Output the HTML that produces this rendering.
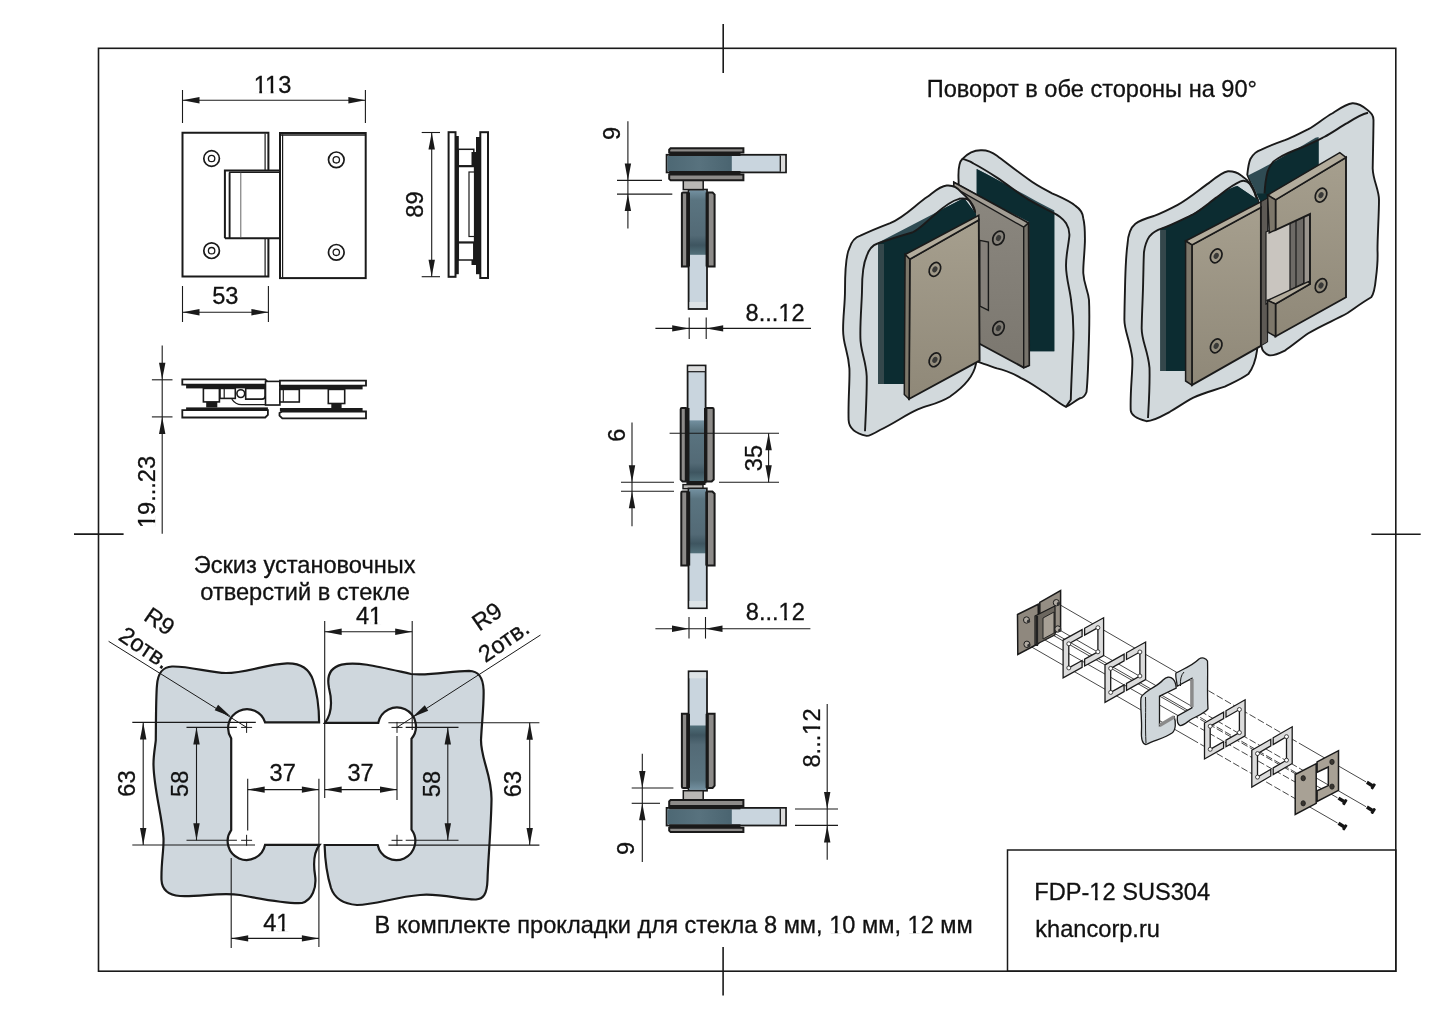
<!DOCTYPE html>
<html><head><meta charset="utf-8"><style>
html,body{margin:0;padding:0;background:#fff;width:1443px;height:1020px;overflow:hidden}
svg{display:block;will-change:transform}
text{font-family:"Liberation Sans",sans-serif;fill:#111;stroke:#111;stroke-width:0.3px}
</style></head><body>
<svg width="1443" height="1020" viewBox="0 0 1443 1020">
<rect width="1443" height="1020" fill="#fff"/>
<rect x="98.5" y="48.3" width="1297.3" height="922.9" fill="none" stroke="#1a1a1a" stroke-width="1.6" />
<line x1="723.2" y1="24.0" x2="723.2" y2="73.0" stroke="#1a1a1a" stroke-width="1.6" />
<line x1="723.1" y1="947.0" x2="723.1" y2="995.5" stroke="#1a1a1a" stroke-width="1.6" />
<line x1="74.0" y1="534.1" x2="123.6" y2="534.1" stroke="#1a1a1a" stroke-width="1.6" />
<line x1="1371.4" y1="534.2" x2="1420.7" y2="534.2" stroke="#1a1a1a" stroke-width="1.6" />
<rect x="1007.5" y="850.0" width="388.3" height="121.2" fill="none" stroke="#1a1a1a" stroke-width="1.5" />
<text x="1034.3" y="900.3" font-size="23.6" text-anchor="start" >FDP-12 SUS304</text>
<text x="1035.3" y="937.1" font-size="23.6" text-anchor="start" >khancorp.ru</text>
<text x="926.7" y="97.0" font-size="23.6" text-anchor="start" >Поворот в обе стороны на 90°</text>
<text x="193.8" y="572.8" font-size="23.6" text-anchor="start" >Эскиз установочных</text>
<text x="200.3" y="600.2" font-size="23.6" text-anchor="start" >отверстий в стекле</text>
<text x="374.6" y="932.7" font-size="23.6" text-anchor="start" >В комплекте прокладки для стекла 8 мм, 10 мм, 12 мм</text>
<line x1="182.5" y1="90.0" x2="182.5" y2="123.0" stroke="#1a1a1a" stroke-width="1.1" />
<line x1="365.4" y1="90.0" x2="365.4" y2="123.0" stroke="#1a1a1a" stroke-width="1.1" />
<line x1="182.5" y1="100.2" x2="365.4" y2="100.2" stroke="#1a1a1a" stroke-width="1.1" />
<polygon points="182.5,100.2 199.5,97.0 199.5,103.4" fill="#1a1a1a"/>
<polygon points="365.4,100.2 348.4,103.4 348.4,97.0" fill="#1a1a1a"/>
<text x="272.5" y="93.0" font-size="23.6" text-anchor="middle" >113</text>
<path d="M268.4,170.6 V132.7 H182.5 V276.5 H268.4 V238.2" fill="none" stroke="#1a1a1a" stroke-width="2" />
<line x1="265.1" y1="133.5" x2="265.1" y2="170.6" stroke="#1a1a1a" stroke-width="1.2" />
<line x1="265.1" y1="238.2" x2="265.1" y2="276.0" stroke="#1a1a1a" stroke-width="1.2" />
<path d="M224.9,238.2 V170.6 H279 M224.9,238.2 H279" fill="none" stroke="#1a1a1a" stroke-width="2" />
<line x1="229.6" y1="172.5" x2="229.6" y2="238.0" stroke="#1a1a1a" stroke-width="1.9" />
<line x1="229.0" y1="172.3" x2="279.0" y2="172.3" stroke="#1a1a1a" stroke-width="1.4" />
<line x1="240.8" y1="172.5" x2="240.8" y2="238.0" stroke="#555" stroke-width="0.9" />
<rect x="280.0" y="133.0" width="85.7" height="145.1" fill="none" stroke="#1a1a1a" stroke-width="2" />
<line x1="282.6" y1="134.5" x2="282.6" y2="277.5" stroke="#1a1a1a" stroke-width="1.2" />
<line x1="280.0" y1="135.0" x2="365.7" y2="135.0" stroke="#1a1a1a" stroke-width="1.4" />
<circle cx="211.6" cy="158.5" r="7.8" fill="none" stroke="#1a1a1a" stroke-width="1.7"/>
<circle cx="211.6" cy="158.5" r="3.2" fill="none" stroke="#1a1a1a" stroke-width="1.3"/>
<circle cx="336.3" cy="159.8" r="7.8" fill="none" stroke="#1a1a1a" stroke-width="1.7"/>
<circle cx="336.3" cy="159.8" r="3.2" fill="none" stroke="#1a1a1a" stroke-width="1.3"/>
<circle cx="211.6" cy="250.7" r="7.8" fill="none" stroke="#1a1a1a" stroke-width="1.7"/>
<circle cx="211.6" cy="250.7" r="3.2" fill="none" stroke="#1a1a1a" stroke-width="1.3"/>
<circle cx="336.3" cy="252.3" r="7.8" fill="none" stroke="#1a1a1a" stroke-width="1.7"/>
<circle cx="336.3" cy="252.3" r="3.2" fill="none" stroke="#1a1a1a" stroke-width="1.3"/>
<line x1="182.5" y1="286.0" x2="182.5" y2="322.0" stroke="#1a1a1a" stroke-width="1.1" />
<line x1="268.4" y1="286.0" x2="268.4" y2="322.0" stroke="#1a1a1a" stroke-width="1.1" />
<line x1="182.5" y1="312.2" x2="268.4" y2="312.2" stroke="#1a1a1a" stroke-width="1.1" />
<polygon points="182.5,312.2 199.5,309.0 199.5,315.4" fill="#1a1a1a"/>
<polygon points="268.4,312.2 251.4,315.4 251.4,309.0" fill="#1a1a1a"/>
<text x="225.3" y="304.0" font-size="23.6" text-anchor="middle" >53</text>
<line x1="421.7" y1="132.5" x2="440.0" y2="132.5" stroke="#1a1a1a" stroke-width="1.1" />
<line x1="421.7" y1="276.7" x2="440.0" y2="276.7" stroke="#1a1a1a" stroke-width="1.1" />
<line x1="431.7" y1="132.5" x2="431.7" y2="276.7" stroke="#1a1a1a" stroke-width="1.1" />
<polygon points="431.7,132.5 434.9,149.5 428.5,149.5" fill="#1a1a1a"/>
<polygon points="431.7,276.7 428.5,259.7 434.9,259.7" fill="#1a1a1a"/>
<text x="422.5" y="204.5" font-size="23.6" text-anchor="middle" transform="rotate(-90 422.5 204.5)" >89</text>
<rect x="448.6" y="132.2" width="6.9" height="144.6" fill="#fff" stroke="#1a1a1a" stroke-width="2" />
<rect x="455.0" y="136.0" width="3.8" height="138.2" fill="#1a1a1a" stroke="none" stroke-width="1.5" />
<rect x="480.3" y="132.2" width="7.7" height="145.8" fill="#fff" stroke="#1a1a1a" stroke-width="2" />
<rect x="476.0" y="137.0" width="4.3" height="137.2" fill="#1a1a1a" stroke="none" stroke-width="1.5" />
<rect x="458.3" y="149.3" width="15.5" height="16.5" fill="#fff" stroke="#1a1a1a" stroke-width="1.5" />
<rect x="471.5" y="152.0" width="5.0" height="113.0" fill="#1a1a1a" stroke="none" stroke-width="1.5" />
<rect x="458.3" y="166.6" width="16.2" height="75.4" fill="#fff" stroke="#1a1a1a" stroke-width="1.3" />
<rect x="469.0" y="172.0" width="5.5" height="64.5" fill="#fff" stroke="#1a1a1a" stroke-width="1.2" />
<rect x="458.3" y="242.8" width="15.5" height="17.2" fill="#fff" stroke="#1a1a1a" stroke-width="1.5" />
<line x1="162.2" y1="345.4" x2="162.2" y2="533.8" stroke="#1a1a1a" stroke-width="1.1" />
<line x1="151.9" y1="379.8" x2="172.5" y2="379.8" stroke="#1a1a1a" stroke-width="1.1" />
<line x1="151.9" y1="416.9" x2="172.5" y2="416.9" stroke="#1a1a1a" stroke-width="1.1" />
<polygon points="162.2,379.8 159.0,362.8 165.4,362.8" fill="#1a1a1a"/>
<polygon points="162.2,416.9 165.4,433.9 159.0,433.9" fill="#1a1a1a"/>
<text x="154.8" y="492.0" font-size="23.6" text-anchor="middle" transform="rotate(-90 154.8 492.0)" >19...23</text>
<path d="M182.3,379.4 H265.2 L267.9,382.2 V384.6 H182.3 Z" fill="#fff" stroke="#1a1a1a" stroke-width="1.8" />
<rect x="186.1" y="384.6" width="81.8" height="3.8" fill="#1a1a1a" stroke="none" stroke-width="1.5" />
<rect x="203.4" y="388.4" width="16.0" height="13.5" fill="#fff" stroke="#1a1a1a" stroke-width="1.6" />
<rect x="206.2" y="401.9" width="11.1" height="5.5" fill="#1a1a1a" stroke="none" stroke-width="1.5" />
<rect x="186.1" y="407.4" width="81.8" height="2.8" fill="#1a1a1a" stroke="none" stroke-width="1.5" />
<path d="M182.3,410.2 H267.9 V414.8 L265.2,417.5 H182.3 Z" fill="#fff" stroke="#1a1a1a" stroke-width="1.8" />
<rect x="220.0" y="388.4" width="15.3" height="10.0" fill="#fff" stroke="#1a1a1a" stroke-width="1.6" />
<line x1="224.2" y1="388.6" x2="224.2" y2="398.2" stroke="#1a1a1a" stroke-width="1.2" />
<circle cx="240.8" cy="393.6" r="3.9" fill="#fff" stroke="#1a1a1a" stroke-width="1.6"/>
<path d="M245.7,388.4 H265.1 V396 Q265.1,399.1 262,399.1 H245.7 Z" fill="#fff" stroke="#1a1a1a" stroke-width="1.6" />
<path d="M231.8,399.1 Q235.5,404.6 241.5,404.6 H279.9" fill="none" stroke="#1a1a1a" stroke-width="1.2" />
<line x1="267.9" y1="381.8" x2="279.9" y2="381.8" stroke="#1a1a1a" stroke-width="1.4" />
<rect x="265.5" y="381.4" width="14.4" height="23.6" fill="#fff" stroke="#1a1a1a" stroke-width="1.6" />
<path d="M279.9,380.7 H366 V385.6 H279.9 Z" fill="#fff" stroke="#1a1a1a" stroke-width="1.8" />
<rect x="279.9" y="385.6" width="82.7" height="3.8" fill="#1a1a1a" stroke="none" stroke-width="1.5" />
<rect x="279.9" y="389.4" width="19.4" height="12.6" fill="#fff" stroke="#1a1a1a" stroke-width="1.6" />
<line x1="283.3" y1="389.6" x2="283.3" y2="401.8" stroke="#1a1a1a" stroke-width="1.2" />
<rect x="328.3" y="389.4" width="16.4" height="14.1" fill="#fff" stroke="#1a1a1a" stroke-width="1.6" />
<rect x="331.3" y="403.5" width="10.3" height="4.5" fill="#1a1a1a" stroke="none" stroke-width="1.5" />
<rect x="279.9" y="408.0" width="82.7" height="3.5" fill="#1a1a1a" stroke="none" stroke-width="1.5" />
<path d="M282.3,411.5 H366 V418.4 H282.3 L279.5,415.6 V413 Z" fill="#fff" stroke="#1a1a1a" stroke-width="1.8" />
<defs><linearGradient id="dgv" x1="0" y1="0" x2="0" y2="1"><stop offset="0" stop-color="#7390a0"/><stop offset="0.15" stop-color="#5a7480"/><stop offset="0.7" stop-color="#536a76"/><stop offset="0.85" stop-color="#3e5560"/><stop offset="1" stop-color="#52707a"/></linearGradient><linearGradient id="dgh" x1="0" y1="0" x2="1" y2="0"><stop offset="0" stop-color="#4d6874"/><stop offset="0.5" stop-color="#58727e"/><stop offset="1" stop-color="#4a6470"/></linearGradient></defs>
<g >
<rect x="688.6" y="189.6" width="18.4" height="119.4" fill="#c9d5de" stroke="#1a1a1a" stroke-width="1.8" />
<rect x="689.5" y="190.5" width="16.6" height="64.3" fill="url(#dgv)" stroke="none" stroke-width="1.5" />
<rect x="689.5" y="302.0" width="16.6" height="6.0" fill="#dde3e6" stroke="none" stroke-width="1.5" />
<rect x="686.8" y="192.4" width="3.2" height="74.1" fill="#1a1a1a" stroke="none" stroke-width="1.5" />
<rect x="705.6" y="192.4" width="2.6" height="74.1" fill="#1a1a1a" stroke="none" stroke-width="1.5" />
<path d="M681.9,193.6 Q681.9,192.4 683.1,192.4 H687.2 V266.5 H681.9 Z" fill="#8d8b89" stroke="#1a1a1a" stroke-width="2.0" />
<path d="M707.8,192.4 H712.6 L714.6,194.6 V266.5 H707.8 Z" fill="#8d8b89" stroke="#1a1a1a" stroke-width="2.0" />
<rect x="683.3" y="180.3" width="19.9" height="9.3" fill="#b9b7b4" stroke="#1a1a1a" stroke-width="1.5" />
<rect x="666.6" y="154.8" width="119.4" height="17.6" fill="#c9d5de" stroke="#1a1a1a" stroke-width="1.8" />
<rect x="667.5" y="156.0" width="64.3" height="15.0" fill="url(#dgh)" stroke="none" stroke-width="1.5" />
<rect x="780.3" y="155.7" width="4.8" height="15.8" fill="#dcdcdc" stroke="none" stroke-width="1.5" />
<line x1="780.3" y1="155.5" x2="780.3" y2="171.7" stroke="#1a1a1a" stroke-width="1.3" />
<rect x="669.2" y="152.4" width="71.3" height="3.6" fill="#1a1a1a" stroke="none" stroke-width="1.5" />
<rect x="669.2" y="171.0" width="71.3" height="3.6" fill="#1a1a1a" stroke="none" stroke-width="1.5" />
<path d="M670.6,148.2 H743.4 V152.6 H669.2 V149.6 Z" fill="#8d8b89" stroke="#1a1a1a" stroke-width="2.0" />
<path d="M669.2,174.4 H743.4 V180.3 H670.6 L669.2,178.9 Z" fill="#8d8b89" stroke="#1a1a1a" stroke-width="2.0" />
</g>
<g transform="matrix(1,0,0,-1,0,980.3)">
<rect x="688.6" y="189.6" width="18.4" height="119.4" fill="#c9d5de" stroke="#1a1a1a" stroke-width="1.8" />
<rect x="689.5" y="190.5" width="16.6" height="64.3" fill="url(#dgv)" stroke="none" stroke-width="1.5" />
<rect x="689.5" y="302.0" width="16.6" height="6.0" fill="#dde3e6" stroke="none" stroke-width="1.5" />
<rect x="686.8" y="192.4" width="3.2" height="74.1" fill="#1a1a1a" stroke="none" stroke-width="1.5" />
<rect x="705.6" y="192.4" width="2.6" height="74.1" fill="#1a1a1a" stroke="none" stroke-width="1.5" />
<path d="M681.9,193.6 Q681.9,192.4 683.1,192.4 H687.2 V266.5 H681.9 Z" fill="#8d8b89" stroke="#1a1a1a" stroke-width="2.0" />
<path d="M707.8,192.4 H712.6 L714.6,194.6 V266.5 H707.8 Z" fill="#8d8b89" stroke="#1a1a1a" stroke-width="2.0" />
<rect x="683.3" y="180.3" width="19.9" height="9.3" fill="#b9b7b4" stroke="#1a1a1a" stroke-width="1.5" />
<rect x="666.6" y="154.8" width="119.4" height="17.6" fill="#c9d5de" stroke="#1a1a1a" stroke-width="1.8" />
<rect x="667.5" y="156.0" width="64.3" height="15.0" fill="url(#dgh)" stroke="none" stroke-width="1.5" />
<rect x="780.3" y="155.7" width="4.8" height="15.8" fill="#dcdcdc" stroke="none" stroke-width="1.5" />
<line x1="780.3" y1="155.5" x2="780.3" y2="171.7" stroke="#1a1a1a" stroke-width="1.3" />
<rect x="669.2" y="152.4" width="71.3" height="3.6" fill="#1a1a1a" stroke="none" stroke-width="1.5" />
<rect x="669.2" y="171.0" width="71.3" height="3.6" fill="#1a1a1a" stroke="none" stroke-width="1.5" />
<path d="M670.6,148.2 H743.4 V152.6 H669.2 V149.6 Z" fill="#8d8b89" stroke="#1a1a1a" stroke-width="2.0" />
<path d="M669.2,174.4 H743.4 V180.3 H670.6 L669.2,178.9 Z" fill="#8d8b89" stroke="#1a1a1a" stroke-width="2.0" />
</g>
<rect x="687.6" y="365.5" width="18.0" height="116.9" fill="#c9d5de" stroke="#1a1a1a" stroke-width="1.8" />
<rect x="688.5" y="366.4" width="16.2" height="5.3" fill="#dcdcdc" stroke="none" stroke-width="1.5" />
<line x1="687.6" y1="371.7" x2="705.6" y2="371.7" stroke="#1a1a1a" stroke-width="1.2" />
<rect x="688.5" y="420.4" width="16.2" height="61.1" fill="url(#dgv)" stroke="none" stroke-width="1.5" />
<rect x="686.0" y="408.0" width="3.5" height="73.5" fill="#1a1a1a" stroke="none" stroke-width="1.5" />
<rect x="704.0" y="408.0" width="3.0" height="73.5" fill="#1a1a1a" stroke="none" stroke-width="1.5" />
<rect x="686.5" y="481.0" width="19.0" height="4.0" fill="#1a1a1a" stroke="none" stroke-width="1.5" />
<path d="M680.7,409.2 Q680.7,408 681.9,408 H685.8 V481.5 H682.5 L680.7,479.7 Z" fill="#8d8b89" stroke="#1a1a1a" stroke-width="2.0" />
<path d="M706.4,408 H712.5 Q713.7,408 713.7,409.2 V479.5 L711.7,481.5 H706.4 Z" fill="#8d8b89" stroke="#1a1a1a" stroke-width="2.0" />
<rect x="683.0" y="484.6" width="20.0" height="4.1" fill="#b9b7b4" stroke="#1a1a1a" stroke-width="1.4" />
<rect x="688.5" y="488.4" width="18.3" height="119.8" fill="#c9d5de" stroke="#1a1a1a" stroke-width="1.8" />
<rect x="689.4" y="489.3" width="16.5" height="64.0" fill="url(#dgv)" stroke="none" stroke-width="1.5" />
<rect x="689.4" y="601.0" width="16.5" height="6.3" fill="#dde3e6" stroke="none" stroke-width="1.5" />
<rect x="686.8" y="491.5" width="3.4" height="74.1" fill="#1a1a1a" stroke="none" stroke-width="1.5" />
<rect x="705.3" y="491.5" width="2.5" height="74.1" fill="#1a1a1a" stroke="none" stroke-width="1.5" />
<path d="M681.3,492.7 Q681.3,491.5 682.5,491.5 H687.2 V565.6 H681.3 Z" fill="#8d8b89" stroke="#1a1a1a" stroke-width="2.0" />
<path d="M707.0,491.5 H712.4 L714.6,493.7 V565.6 H707.0 Z" fill="#8d8b89" stroke="#1a1a1a" stroke-width="2.0" />
<line x1="627.9" y1="121.3" x2="627.9" y2="228.4" stroke="#1a1a1a" stroke-width="1.1" />
<line x1="617.0" y1="180.4" x2="662.0" y2="180.4" stroke="#1a1a1a" stroke-width="1.1" />
<line x1="617.0" y1="194.1" x2="672.3" y2="194.1" stroke="#1a1a1a" stroke-width="1.1" />
<polygon points="627.9,180.4 624.7,163.4 631.1,163.4" fill="#1a1a1a"/>
<polygon points="627.9,194.1 631.1,211.1 624.7,211.1" fill="#1a1a1a"/>
<text x="619.5" y="133.5" font-size="23.6" text-anchor="middle" transform="rotate(-90 619.5 133.5)" >9</text>
<line x1="655.4" y1="328.4" x2="811.0" y2="328.4" stroke="#1a1a1a" stroke-width="1.1" />
<line x1="689.2" y1="317.5" x2="689.2" y2="339.0" stroke="#1a1a1a" stroke-width="1.1" />
<line x1="706.2" y1="317.5" x2="706.2" y2="339.0" stroke="#1a1a1a" stroke-width="1.1" />
<polygon points="689.2,328.4 672.2,331.6 672.2,325.2" fill="#1a1a1a"/>
<polygon points="706.2,328.4 723.2,325.2 723.2,331.6" fill="#1a1a1a"/>
<text x="745.6" y="321.0" font-size="23.6" text-anchor="start" >8...12</text>
<line x1="632.0" y1="422.5" x2="632.0" y2="526.3" stroke="#1a1a1a" stroke-width="1.1" />
<line x1="621.0" y1="482.2" x2="674.0" y2="482.2" stroke="#1a1a1a" stroke-width="1.1" />
<line x1="621.0" y1="491.3" x2="674.0" y2="491.3" stroke="#1a1a1a" stroke-width="1.1" />
<polygon points="632.0,482.2 628.8,465.2 635.2,465.2" fill="#1a1a1a"/>
<polygon points="632.0,491.3 635.2,508.3 628.8,508.3" fill="#1a1a1a"/>
<text x="625.5" y="435.3" font-size="23.6" text-anchor="middle" transform="rotate(-90 625.5 435.3)" >6</text>
<line x1="669.6" y1="433.3" x2="779.0" y2="433.3" stroke="#1a1a1a" stroke-width="1.1" />
<line x1="719.0" y1="482.2" x2="779.0" y2="482.2" stroke="#1a1a1a" stroke-width="1.1" />
<line x1="768.6" y1="433.3" x2="768.6" y2="482.2" stroke="#1a1a1a" stroke-width="1.1" />
<polygon points="768.6,433.3 771.8,450.3 765.4,450.3" fill="#1a1a1a"/>
<polygon points="768.6,482.2 765.4,465.2 771.8,465.2" fill="#1a1a1a"/>
<text x="762.0" y="458.0" font-size="23.6" text-anchor="middle" transform="rotate(-90 762.0 458.0)" >35</text>
<line x1="655.4" y1="628.7" x2="810.4" y2="628.7" stroke="#1a1a1a" stroke-width="1.1" />
<line x1="689.0" y1="617.0" x2="689.0" y2="638.6" stroke="#1a1a1a" stroke-width="1.1" />
<line x1="705.5" y1="617.0" x2="705.5" y2="638.6" stroke="#1a1a1a" stroke-width="1.1" />
<polygon points="689.0,628.7 672.0,631.9 672.0,625.5" fill="#1a1a1a"/>
<polygon points="705.5,628.7 722.5,625.5 722.5,631.9" fill="#1a1a1a"/>
<text x="745.8" y="620.0" font-size="23.6" text-anchor="start" >8...12</text>
<line x1="642.3" y1="753.7" x2="642.3" y2="862.0" stroke="#1a1a1a" stroke-width="1.1" />
<line x1="631.7" y1="788.0" x2="673.4" y2="788.0" stroke="#1a1a1a" stroke-width="1.1" />
<line x1="631.7" y1="803.3" x2="660.0" y2="803.3" stroke="#1a1a1a" stroke-width="1.1" />
<polygon points="642.3,788.0 639.1,771.0 645.5,771.0" fill="#1a1a1a"/>
<polygon points="642.3,803.3 645.5,820.3 639.1,820.3" fill="#1a1a1a"/>
<text x="634.0" y="848.4" font-size="23.6" text-anchor="middle" transform="rotate(-90 634.0 848.4)" >9</text>
<line x1="827.2" y1="704.0" x2="827.2" y2="859.7" stroke="#1a1a1a" stroke-width="1.1" />
<line x1="795.0" y1="809.0" x2="838.0" y2="809.0" stroke="#1a1a1a" stroke-width="1.1" />
<line x1="795.0" y1="825.4" x2="838.0" y2="825.4" stroke="#1a1a1a" stroke-width="1.1" />
<polygon points="827.2,809.0 824.0,792.0 830.4,792.0" fill="#1a1a1a"/>
<polygon points="827.2,825.4 830.4,842.4 824.0,842.4" fill="#1a1a1a"/>
<text x="820.0" y="738.0" font-size="23.6" text-anchor="middle" transform="rotate(-90 820.0 738.0)" >8...12</text>
<path d="M155.8,740 C156,715 156,695 157,685 C158,672 163,667 172,666.5 C190,666 210,673 226,673 C245,673 268,664 287,663.3 C300,663 309,668 313,680 C317,692 319,708 319.1,722.4 L265.1,722.4 A18.9,18.9 0 1 0 231.2,738.3 L231.2,830.1 A18.9,18.9 0 1 0 265.1,844.8 L319.6,844.8 C314,852 313,862 315,875 C317,888 312,900 302,903 C285,904 262,899 240,895 C220,892 200,897 180,896 C168,895 162,890 161.5,880 C161,862 164,850 163.5,838 C162,815 154,790 153.5,765 C153.3,755 155.5,745 155.8,740 Z" fill="#cfd7dd" stroke="#1a1a1a" stroke-width="2.2" />
<path d="M325,722.8 C333,712 332,700 329,688 C327,678 328,668 341.6,664.6 C358,661 380,667 411,674 C430,676 450,671 469,670.8 C478,671 483,676 483.6,690 C484,705 482,720 481,740 C481,760 492,775 491.5,800 C491,830 488,860 487.5,880 C487,895 483,899 476,899.5 C462,900 440,893 420,895 C395,897 375,905 357,905 C345,904 335,900 331,888 C327,875 325,860 324.6,845 L377.7,845 A19,19 0 1 0 411.5,829.7 L411.5,738.7 A19,19 0 1 0 378.3,722.8 Z" fill="#cfd7dd" stroke="#1a1a1a" stroke-width="2.2" />
<line x1="132.3" y1="722.4" x2="255.8" y2="722.4" stroke="#1a1a1a" stroke-width="1.1" />
<line x1="132.3" y1="845.0" x2="255.0" y2="845.0" stroke="#1a1a1a" stroke-width="1.1" />
<line x1="143.2" y1="722.4" x2="143.2" y2="845.0" stroke="#1a1a1a" stroke-width="1.1" />
<polygon points="143.2,722.4 146.4,739.4 140.0,739.4" fill="#1a1a1a"/>
<polygon points="143.2,845.0 140.0,828.0 146.4,828.0" fill="#1a1a1a"/>
<text x="135.5" y="783.6" font-size="23.6" text-anchor="middle" transform="rotate(-90 135.5 783.6)" >63</text>
<line x1="186.5" y1="727.4" x2="236.9" y2="727.4" stroke="#1a1a1a" stroke-width="1.1" />
<line x1="186.5" y1="840.3" x2="236.9" y2="840.3" stroke="#1a1a1a" stroke-width="1.1" />
<line x1="196.5" y1="727.4" x2="196.5" y2="840.3" stroke="#1a1a1a" stroke-width="1.1" />
<polygon points="196.5,727.4 199.7,744.4 193.3,744.4" fill="#1a1a1a"/>
<polygon points="196.5,840.3 193.3,823.3 199.7,823.3" fill="#1a1a1a"/>
<text x="187.8" y="783.8" font-size="23.6" text-anchor="middle" transform="rotate(-90 187.8 783.8)" >58</text>
<line x1="241.1" y1="727.4" x2="252.1" y2="727.4" stroke="#1a1a1a" stroke-width="1.0" />
<line x1="246.6" y1="721.9" x2="246.6" y2="732.9" stroke="#1a1a1a" stroke-width="1.0" />
<line x1="241.1" y1="840.3" x2="252.1" y2="840.3" stroke="#1a1a1a" stroke-width="1.0" />
<line x1="246.6" y1="834.8" x2="246.6" y2="845.8" stroke="#1a1a1a" stroke-width="1.0" />
<line x1="391.5" y1="727.4" x2="402.5" y2="727.4" stroke="#1a1a1a" stroke-width="1.0" />
<line x1="397.0" y1="721.9" x2="397.0" y2="732.9" stroke="#1a1a1a" stroke-width="1.0" />
<line x1="391.5" y1="840.3" x2="402.5" y2="840.3" stroke="#1a1a1a" stroke-width="1.0" />
<line x1="397.0" y1="834.8" x2="397.0" y2="845.8" stroke="#1a1a1a" stroke-width="1.0" />
<line x1="388.4" y1="722.8" x2="539.4" y2="722.8" stroke="#1a1a1a" stroke-width="1.1" />
<line x1="388.4" y1="845.1" x2="539.4" y2="845.1" stroke="#1a1a1a" stroke-width="1.1" />
<line x1="529.7" y1="722.8" x2="529.7" y2="845.1" stroke="#1a1a1a" stroke-width="1.1" />
<polygon points="529.7,722.8 532.9,739.8 526.5,739.8" fill="#1a1a1a"/>
<polygon points="529.7,845.1 526.5,828.1 532.9,828.1" fill="#1a1a1a"/>
<text x="521.1" y="784.0" font-size="23.6" text-anchor="middle" transform="rotate(-90 521.1 784.0)" >63</text>
<line x1="405.7" y1="727.4" x2="458.5" y2="727.4" stroke="#1a1a1a" stroke-width="1.1" />
<line x1="405.7" y1="840.3" x2="458.5" y2="840.3" stroke="#1a1a1a" stroke-width="1.1" />
<line x1="447.8" y1="727.4" x2="447.8" y2="840.3" stroke="#1a1a1a" stroke-width="1.1" />
<polygon points="447.8,727.4 451.0,744.4 444.6,744.4" fill="#1a1a1a"/>
<polygon points="447.8,840.3 444.6,823.3 451.0,823.3" fill="#1a1a1a"/>
<text x="440.2" y="784.0" font-size="23.6" text-anchor="middle" transform="rotate(-90 440.2 784.0)" >58</text>
<line x1="324.7" y1="621.0" x2="324.7" y2="798.0" stroke="#1a1a1a" stroke-width="1.1" />
<line x1="412.2" y1="621.0" x2="412.2" y2="730.0" stroke="#1a1a1a" stroke-width="1.1" />
<line x1="324.7" y1="631.7" x2="412.2" y2="631.7" stroke="#1a1a1a" stroke-width="1.1" />
<polygon points="324.7,631.7 341.7,628.5 341.7,634.9" fill="#1a1a1a"/>
<polygon points="412.2,631.7 395.2,634.9 395.2,628.5" fill="#1a1a1a"/>
<text x="369.0" y="624.0" font-size="23.6" text-anchor="middle" >41</text>
<line x1="247.7" y1="778.8" x2="247.7" y2="830.6" stroke="#1a1a1a" stroke-width="1.1" />
<line x1="318.9" y1="778.8" x2="318.9" y2="947.0" stroke="#1a1a1a" stroke-width="1.1" />
<line x1="397.0" y1="736.0" x2="397.0" y2="800.0" stroke="#1a1a1a" stroke-width="1.1" />
<line x1="247.7" y1="789.6" x2="318.9" y2="789.6" stroke="#1a1a1a" stroke-width="1.1" />
<polygon points="247.7,789.6 264.7,786.4 264.7,792.8" fill="#1a1a1a"/>
<polygon points="318.9,789.6 301.9,792.8 301.9,786.4" fill="#1a1a1a"/>
<text x="282.7" y="781.0" font-size="23.6" text-anchor="middle" >37</text>
<line x1="324.7" y1="789.6" x2="397.0" y2="789.6" stroke="#1a1a1a" stroke-width="1.1" />
<polygon points="324.7,789.6 341.7,786.4 341.7,792.8" fill="#1a1a1a"/>
<polygon points="397.0,789.6 380.0,792.8 380.0,786.4" fill="#1a1a1a"/>
<text x="360.5" y="781.0" font-size="23.6" text-anchor="middle" >37</text>
<line x1="231.2" y1="858.0" x2="231.2" y2="948.0" stroke="#1a1a1a" stroke-width="1.1" />
<line x1="231.2" y1="938.4" x2="318.9" y2="938.4" stroke="#1a1a1a" stroke-width="1.1" />
<polygon points="231.2,938.4 248.2,935.2 248.2,941.6" fill="#1a1a1a"/>
<polygon points="318.9,938.4 301.9,941.6 301.9,935.2" fill="#1a1a1a"/>
<text x="276.3" y="930.8" font-size="23.6" text-anchor="middle" >41</text>
<line x1="108.6" y1="641.3" x2="246.6" y2="727.4" stroke="#1a1a1a" stroke-width="1.0" />
<polygon points="230.8,716.5 214.7,710.2 218.1,704.8" fill="#1a1a1a"/>
<line x1="540.5" y1="635.0" x2="397.0" y2="727.4" stroke="#1a1a1a" stroke-width="1.0" />
<polygon points="412.2,717.2 424.8,705.3 428.2,710.7" fill="#1a1a1a"/>
<text transform="translate(159.8,620.9) rotate(34)" x="0" y="8.4" font-size="23.6" text-anchor="middle">R9</text>
<text transform="translate(145.0,647.5) rotate(34)" x="0" y="8.4" font-size="23.6" text-anchor="middle">2отв.</text>
<text transform="translate(486.8,616.2) rotate(-35)" x="0" y="8.4" font-size="23.6" text-anchor="middle">R9</text>
<text transform="translate(503.5,640.5) rotate(-35)" x="0" y="8.4" font-size="23.6" text-anchor="middle">2отв.</text>
<defs><clipPath id="cf1"><path d="M962.5,158.8 C966,160 970,161 973.5,163.5 C982,168 990,173 997,177.6 C1008,185 1018,193 1028.4,199.6 C1036,204 1044,208 1052,212.2 C1058,215 1063,219 1066,223.1 C1069,228 1070,232 1069.2,237.3 L1075,300 L1075,420 L950,420 L950,150 Z"/></clipPath><clipPath id="cf2"><path d="M865,431.2 C866,410 867,390 866.7,376.3 C866,360 860,350 860.4,337 C860,320 862,300 862,290 C862,275 864,262 866.7,256 C869,249 873,245 877.6,243.5 C890,239 900,236 912.2,232.5 C920,229 927,221 934,215.3 C942,208 950,201 959.2,198.8 C964,198 968,199 970.2,201.2 C973,205 975,210 975,212.2 L992,212 L992,445 L860,445 Z"/></clipPath><clipPath id="cf3"><path d="M1264.5,193.5 C1265,185 1266,178 1267.6,171.6 C1270,165 1273,161 1277,159 C1285,154 1292,151 1300.6,148 C1308,145 1316,141 1324.1,137 C1332,133 1340,127 1347.6,122.9 C1355,118 1362,114 1368,112.7 L1380,112 L1380,400 L1250,400 L1250,193.5 Z"/></clipPath><clipPath id="cf4"><path d="M1148,418 C1149,400 1150,385 1149.5,367.8 C1148,350 1141,340 1141.7,327 C1142,310 1143,295 1143.2,280 C1143.5,270 1143.5,260 1144,252 C1145,245 1147,240 1149.5,236.3 C1153,232 1157,230 1162,228.4 C1172,225 1183,219 1193.4,214.3 C1202,209 1210,202 1217,197.1 C1225,191 1232,185 1240.5,181.4 C1244,180 1247,181 1249.9,183.7 C1253,187 1255,192 1256.2,197.1 L1275,197 L1275,440 L1140,440 Z"/></clipPath></defs>
<defs><linearGradient id="pf" x1="0" y1="0" x2="0" y2="1"><stop offset="0" stop-color="#a69f8e"/><stop offset="1" stop-color="#8f8878"/></linearGradient><linearGradient id="pr" x1="0" y1="0" x2="0" y2="1"><stop offset="0" stop-color="#8c8880"/><stop offset="1" stop-color="#7b776f"/></linearGradient><linearGradient id="gl" x1="0" y1="0" x2="1" y2="0"><stop offset="0" stop-color="#d3dbdf"/><stop offset="1" stop-color="#dde3e6"/></linearGradient></defs>
<path d="M958.6,180.8 C958,170 959,162 962.5,158.8 C968,153 975,150 981.4,150.2 C988,150 992,152 997,155.7 C1008,164 1018,172 1028.4,179.2 C1036,185 1044,189 1052,193.3 C1060,197 1070,201 1075.5,205.9 C1080,209 1083,213 1083.3,218.4 C1085,225 1085,235 1084.9,242 C1084.5,255 1083,265 1083.3,273.3 C1084,285 1088,290 1089,300 C1090,320 1089,340 1088,368.4 C1087.5,380 1087,388 1086.5,392 C1085,396 1083,398 1080.2,398.2 C1075,401 1070,405 1066,406.9 C1060,404 1050,396 1044.1,392 C1035,386 1028,381 1020.6,377.8 C1012,373 1005,370 997,368.4 C990,366 984,364 979,362.2 L958,330 Z" fill="#d2d9dc" stroke="#1a1a1a" stroke-width="1.9" />
<path d="M976.7,169 C1000,181 1030,198 1054.3,210.6 L1054.3,351.2 L1029.2,351.2 L1029.2,222 L976.7,195 Z" fill="#2f4b53" stroke="none" stroke-width="1.5" />
<path d="M976.7,169 C1000,181 1030,198 1054.3,210.6 L1054.3,351.2 L1029.2,351.2 L1029.2,222 L976.7,195 Z" fill="#0c2c31" stroke="none" stroke-width="1.5" clip-path="url(#cf1)"/>
<path d="M962.5,158.8 C966,160 970,161 973.5,163.5 C982,168 990,173 997,177.6 C1008,185 1018,193 1028.4,199.6 C1036,204 1044,208 1052,212.2 C1058,215 1063,219 1066,223.1 C1069,228 1070,232 1069.2,237.3 C1068,248 1066,255 1066,265.5 C1066,278 1070,290 1071,300 C1074,320 1074,330 1073,345 C1072,368 1071,390 1070.8,399.8 L1066,406.9" fill="none" stroke="#1a1a1a" stroke-width="1.9" />
<path d="M953.9,182.4 L1028.4,223.1 L1029.2,365.3 L1023.7,367.6 L954,330 Z" fill="url(#pr)" stroke="#1a1a1a" stroke-width="1.9" />
<path d="M953.9,182.4 L1028.4,223.1 L1023.7,227.2 L953.9,187.3 Z" fill="#a39e95" stroke="#1a1a1a" stroke-width="1.4" />
<path d="M1023.7,227.2 L1028.4,223.1 L1029.2,365.3 L1023.7,367.6 Z" fill="#77736b" stroke="#1a1a1a" stroke-width="1.4" />
<g transform="translate(998.5,238) rotate(28)"><ellipse rx="5.3" ry="7.3" fill="none" stroke="#1a1a1a" stroke-width="1.7"/><ellipse rx="2.4" ry="3.2" fill="#3a3a38" stroke="none"/></g>
<g transform="translate(998.5,328.2) rotate(28)"><ellipse rx="5.3" ry="7.3" fill="none" stroke="#1a1a1a" stroke-width="1.7"/><ellipse rx="2.4" ry="3.2" fill="#3a3a38" stroke="none"/></g>
<path d="M979.8,240.4 L988.4,242 L988.4,310.4 L979.8,306 Z" fill="#85807a" stroke="#1a1a1a" stroke-width="1.4" />
<path d="M866.7,435.9 C858,434 849,430 848.6,420 C848,400 850,380 849.4,368.4 C848,350 843,345 843.1,330 C843,315 845,305 845,290 C845,270 846,255 849.4,248.2 C852,240 856,237 860.4,235.7 C870,231 880,227 890.2,223.1 C905,217 915,205 927.8,196.5 C935,191 940,186 946.7,185.5 C953,185 958,188 961,192 C966,196 972,203 975,212.2 L978,300 L976,363.7 C974,375 967,385 949.8,396.7 C938,404 928,405 918.4,409.2 C905,415 895,423 880,430 C875,433 870,436 866.7,435.9 Z" fill="#d2d9dc" stroke="#1a1a1a" stroke-width="1.9" />
<path d="M878.4,242.5 L964,198 L976,214 L976,300 L906,340 L906,384 L878.4,384 Z" fill="#2f4b53" stroke="none" stroke-width="1.5" />
<path d="M878.4,242.5 L964,198 L976,214 L976,300 L906,340 L906,384 L878.4,384 Z" fill="#0c2c31" stroke="none" stroke-width="1.5" clip-path="url(#cf2)"/>
<rect x="878.4" y="244.0" width="5.6" height="140.0" fill="#34474b" stroke="none" stroke-width="1.5" />
<path d="M865,431.2 C866,410 867,390 866.7,376.3 C866,360 860,350 860.4,337 C860,320 862,300 862,290 C862,275 864,262 866.7,256 C869,249 873,245 877.6,243.5 C890,239 900,236 912.2,232.5 C920,229 927,221 934,215.3 C942,208 950,201 959.2,198.8 C964,198 968,199 970.2,201.2 C973,205 975,210 975,212.2" fill="none" stroke="#1a1a1a" stroke-width="1.9" />
<path d="M909.8,259.2 L978.8,220 L979.6,360.6 L909,399 Z" fill="url(#pf)" stroke="#1a1a1a" stroke-width="1.9" />
<path d="M905.1,254.5 L978.8,215.3 L978.8,220 L909.8,259.2 Z" fill="#b3ac9c" stroke="#1a1a1a" stroke-width="1.5" />
<path d="M905.1,254.5 L909.8,259.2 L909,399 L904.3,394.5 Z" fill="#7d776a" stroke="#1a1a1a" stroke-width="1.5" />
<g transform="translate(934.9,269.4) rotate(28)"><ellipse rx="5.3" ry="7.3" fill="none" stroke="#1a1a1a" stroke-width="1.7"/><ellipse rx="2.4" ry="3.2" fill="#3a3a38" stroke="none"/></g>
<g transform="translate(934.9,359.8) rotate(28)"><ellipse rx="5.3" ry="7.3" fill="none" stroke="#1a1a1a" stroke-width="1.7"/><ellipse rx="2.4" ry="3.2" fill="#3a3a38" stroke="none"/></g>
<path d="M1247.3,174.7 C1248,168 1249,162 1250.4,159 C1253,154 1257,151 1261.4,149.6 C1269,146 1277,143 1284.9,140.2 C1293,137 1300,133 1308.4,129.2 C1316,125 1324,118 1332,113.5 C1339,109 1346,104 1352.4,103.3 C1358,103 1364,107 1368,110.4 C1371,113 1373.5,115 1373.5,120 C1373.5,130 1373,150 1372.7,168.4 C1373,180 1379,190 1379,199.8 C1379,215 1377.5,235 1377.5,250 C1378,260 1377,270 1375.9,278.4 C1375,288 1374,294 1371.2,297.3 C1363,302 1355,308 1347.6,313 C1335,320 1320,326 1308.4,333.3 C1300,339 1292,346 1284.9,350.6 C1278,354 1273,356 1269.2,355.3 C1265,354 1262,350 1261.4,345.9 L1258,200 Z" fill="#d2d9dc" stroke="#1a1a1a" stroke-width="1.9" />
<path d="M1248,175.5 C1270,165 1295,150 1315.5,137.8 L1318.6,137 L1318.6,170 L1262,205 Z" fill="#2f4b53" stroke="none" stroke-width="1.5" />
<path d="M1248,175.5 C1270,165 1295,150 1315.5,137.8 L1318.6,137 L1318.6,170 L1262,205 Z" fill="#0c2c31" stroke="none" stroke-width="1.5" clip-path="url(#cf3)"/>
<path d="M1264.5,193.5 C1265,185 1266,178 1267.6,171.6 C1270,165 1273,161 1277,159 C1285,154 1292,151 1300.6,148 C1308,145 1316,141 1324.1,137 C1332,133 1340,127 1347.6,122.9 C1355,118 1362,114 1368,112.7" fill="none" stroke="#1a1a1a" stroke-width="1.9" />
<path d="M1146.4,421.2 C1138,419 1131,416 1130.7,410.2 C1130,390 1133,370 1132.3,358.4 C1130,340 1124,330 1124.4,319.2 C1124.5,305 1125,290 1125.2,280 C1125.5,270 1126,255 1127.5,244.1 C1128,235 1130,228 1135.4,223.7 C1140,220 1147,218 1154.2,215.9 C1162,213 1170,209 1177.7,204.9 C1190,198 1200,189 1209.1,182.9 C1215,178 1222,172 1228,171.2 C1234,171 1238,173 1240.5,175.1 C1243,177 1245,178 1246.8,179.8 C1251,185 1254,190 1256.2,197.1 L1261,300 L1257,350.6 C1256,358 1253,368 1248.3,374.1 C1240,380 1232,383 1224.8,386.7 C1212,391 1203,393 1193.4,397.6 C1185,402 1178,407 1169.9,411.8 C1162,416 1155,421 1146.4,421.2 Z" fill="#d2d9dc" stroke="#1a1a1a" stroke-width="1.9" />
<path d="M1160.5,228.4 C1180,222 1200,210 1215,199 C1222,193 1230,188 1237.4,186.1 L1258,200 L1260,330 L1190,370 L1185.6,371 L1160.5,371 Z" fill="#2f4b53" stroke="none" stroke-width="1.5" />
<path d="M1160.5,228.4 C1180,222 1200,210 1215,199 C1222,193 1230,188 1237.4,186.1 L1258,200 L1260,330 L1190,370 L1185.6,371 L1160.5,371 Z" fill="#0c2c31" stroke="none" stroke-width="1.5" clip-path="url(#cf4)"/>
<rect x="1160.5" y="230.0" width="5.5" height="141.0" fill="#34474b" stroke="none" stroke-width="1.5" />
<path d="M1148,418 C1149,400 1150,385 1149.5,367.8 C1148,350 1141,340 1141.7,327 C1142,310 1143,295 1143.2,280 C1143.5,270 1143.5,260 1144,252 C1145,245 1147,240 1149.5,236.3 C1153,232 1157,230 1162,228.4 C1172,225 1183,219 1193.4,214.3 C1202,209 1210,202 1217,197.1 C1225,191 1232,185 1240.5,181.4 C1244,180 1247,181 1249.9,183.7 C1253,187 1255,192 1256.2,197.1" fill="none" stroke="#1a1a1a" stroke-width="1.9" />
<path d="M1260.5,202 L1267.6,198 L1267.6,342 L1260.5,346 Z" fill="#5e5a55" stroke="#1a1a1a" stroke-width="1.0" />
<path d="M1266,232 L1310,212 L1310,284 L1266,304 Z" fill="#c9c5bf" stroke="#1a1a1a" stroke-width="1.2" />
<path d="M1290,222 L1304,216 L1304,283 L1290,290 Z" fill="#6d6a66" stroke="#1a1a1a" stroke-width="1.2" />
<line x1="1296.0" y1="219.0" x2="1296.0" y2="287.0" stroke="#1a1a1a" stroke-width="1.2" />
<path d="M1304,216 L1310,214 L1310,284 L1304,286 Z" fill="#9a958e" stroke="#1a1a1a" stroke-width="1.2" />
<path d="M1275.5,199.8 L1346,157.5 L1346,297.3 L1275.5,336.5 L1275.5,304 L1310,284 L1310,214.1 L1275.5,230 Z" fill="url(#pf)" stroke="#1a1a1a" stroke-width="1.9" />
<path d="M1267.6,195.1 L1339.8,152.7 L1346,157.5 L1275.5,199.8 Z" fill="#b3ac9c" stroke="#1a1a1a" stroke-width="1.5" />
<path d="M1267.6,195.1 L1275.5,199.8 L1275.5,230 L1269.2,232.9 Z" fill="#7d776a" stroke="#1a1a1a" stroke-width="1.5" />
<path d="M1267.6,300.4 L1308.4,281.6 L1310,284 L1275.5,304 Z" fill="#b3ac9c" stroke="#1a1a1a" stroke-width="1.5" />
<path d="M1267.6,300.4 L1275.5,304 L1275.5,336.5 L1267.6,332 Z" fill="#7d776a" stroke="#1a1a1a" stroke-width="1.5" />
<g transform="translate(1321,195.1) rotate(28)"><ellipse rx="5.3" ry="7.3" fill="none" stroke="#1a1a1a" stroke-width="1.7"/><ellipse rx="2.4" ry="3.2" fill="#3a3a38" stroke="none"/></g>
<g transform="translate(1321,285.5) rotate(28)"><ellipse rx="5.3" ry="7.3" fill="none" stroke="#1a1a1a" stroke-width="1.7"/><ellipse rx="2.4" ry="3.2" fill="#3a3a38" stroke="none"/></g>
<path d="M1191.9,244.9 L1260.9,207.3 L1260.9,345.9 L1191.9,385.1 Z" fill="url(#pf)" stroke="#1a1a1a" stroke-width="1.9" />
<path d="M1185.6,241 L1260.9,201.8 L1260.9,207.3 L1191.9,244.9 Z" fill="#b3ac9c" stroke="#1a1a1a" stroke-width="1.5" />
<path d="M1185.6,241 L1191.9,244.9 L1191.9,385.1 L1185.6,381 Z" fill="#7d776a" stroke="#1a1a1a" stroke-width="1.5" />
<g transform="translate(1216.2,255.9) rotate(28)"><ellipse rx="5.3" ry="7.3" fill="none" stroke="#1a1a1a" stroke-width="1.7"/><ellipse rx="2.4" ry="3.2" fill="#3a3a38" stroke="none"/></g>
<g transform="translate(1216.2,345.9) rotate(28)"><ellipse rx="5.3" ry="7.3" fill="none" stroke="#1a1a1a" stroke-width="1.7"/><ellipse rx="2.4" ry="3.2" fill="#3a3a38" stroke="none"/></g>
<line x1="1056.3" y1="602.7" x2="1192.0" y2="681.2" stroke="#333" stroke-width="0.9" />
<line x1="1192.0" y1="681.2" x2="1300.0" y2="743.7" stroke="#333" stroke-width="0.9" stroke-dasharray="7 2.5"/>
<line x1="1300.0" y1="743.7" x2="1366.0" y2="781.9" stroke="#333" stroke-width="0.9" />
<line x1="1057.8" y1="629.0" x2="1192.0" y2="706.4" stroke="#333" stroke-width="0.9" />
<line x1="1192.0" y1="706.4" x2="1300.0" y2="768.6" stroke="#333" stroke-width="0.9" stroke-dasharray="7 2.5"/>
<line x1="1300.0" y1="768.6" x2="1366.0" y2="806.7" stroke="#333" stroke-width="0.9" />
<line x1="1026.5" y1="620.0" x2="1192.0" y2="714.6" stroke="#333" stroke-width="0.9" />
<line x1="1192.0" y1="714.6" x2="1300.0" y2="776.4" stroke="#333" stroke-width="0.9" stroke-dasharray="7 2.5"/>
<line x1="1300.0" y1="776.4" x2="1337.5" y2="797.8" stroke="#333" stroke-width="0.9" />
<line x1="1026.9" y1="644.3" x2="1192.0" y2="739.3" stroke="#333" stroke-width="0.9" />
<line x1="1192.0" y1="739.3" x2="1300.0" y2="801.4" stroke="#333" stroke-width="0.9" stroke-dasharray="7 2.5"/>
<line x1="1300.0" y1="801.4" x2="1337.5" y2="823.0" stroke="#333" stroke-width="0.9" />
<line x1="1040.0" y1="625.0" x2="1192.0" y2="712.7" stroke="#333" stroke-width="0.9" />
<line x1="1192.0" y1="712.7" x2="1300.0" y2="775.0" stroke="#333" stroke-width="0.9" stroke-dasharray="7 2.5"/>
<line x1="1045.0" y1="640.0" x2="1192.0" y2="723.5" stroke="#333" stroke-width="0.9" />
<line x1="1192.0" y1="723.5" x2="1300.0" y2="784.8" stroke="#333" stroke-width="0.9" stroke-dasharray="7 2.5"/>
<line x1="1300.0" y1="784.8" x2="1318.0" y2="795.0" stroke="#333" stroke-width="0.9" />
<path d="M1017.5,614.5 L1038.2,604.3 L1038.6,643.5 L1017.8,654.5 Z" fill="#8f887e" stroke="#1a1a1a" stroke-width="1.5" />
<path d="M1039.8,602.4 L1060.6,590.6 L1060.6,629.4 L1039.8,641.2 Z" fill="#958e84" stroke="#1a1a1a" stroke-width="1.5" />
<path d="M1035.0,616.0 L1055.0,606.0 L1055.0,635.0 L1035.0,645.0 Z" fill="#6c675f" stroke="#1a1a1a" stroke-width="1.2" />
<path d="M1043.0,618.0 L1054.0,612.0 L1054.0,633.0 L1043.0,639.0 Z" fill="#a7a095" stroke="#1a1a1a" stroke-width="0.9" />
<line x1="1037.0" y1="616.0" x2="1037.0" y2="646.0" stroke="#222" stroke-width="2.2" />
<ellipse cx="1026.5" cy="620" rx="3" ry="3.2" fill="#b0aaa2" stroke="#1a1a1a" stroke-width="1"/>
<ellipse cx="1028.5" cy="621.2" rx="1.6" ry="1.8" fill="#333"/>
<ellipse cx="1026.9" cy="644.3" rx="3" ry="3.2" fill="#b0aaa2" stroke="#1a1a1a" stroke-width="1"/>
<ellipse cx="1028.9" cy="645.5" rx="1.6" ry="1.8" fill="#333"/>
<ellipse cx="1056.3" cy="602.7" rx="3" ry="3.2" fill="#b0aaa2" stroke="#1a1a1a" stroke-width="1"/>
<ellipse cx="1058.3" cy="603.9000000000001" rx="1.6" ry="1.8" fill="#333"/>
<ellipse cx="1057.8" cy="629" rx="3" ry="3.2" fill="#b0aaa2" stroke="#1a1a1a" stroke-width="1"/>
<ellipse cx="1059.8" cy="630.2" rx="1.6" ry="1.8" fill="#333"/>
<path d="M1063.1,640.1 L1082.1,629.6 L1082.1,636.4 L1068.8,643.8 L1068.8,667.9 L1082.1,660.5 L1082.1,667.3 L1063.1,677.8 Z" fill="#dcdcdc" stroke="#1a1a1a" stroke-width="1.3" />
<path d="M1084.6,628.3 L1103.6,617.8 L1103.6,655.5 L1084.6,666.0 L1084.6,659.2 L1097.9,651.8 L1097.9,627.7 L1084.6,635.1 Z" fill="#dcdcdc" stroke="#1a1a1a" stroke-width="1.3" />
<circle cx="1068.8" cy="643.8" r="2" fill="#fff" stroke="#1a1a1a" stroke-width="0.8"/>
<circle cx="1068.8" cy="667.9" r="2" fill="#fff" stroke="#1a1a1a" stroke-width="0.8"/>
<circle cx="1097.9" cy="627.7" r="2" fill="#fff" stroke="#1a1a1a" stroke-width="0.8"/>
<circle cx="1097.9" cy="651.8" r="2" fill="#fff" stroke="#1a1a1a" stroke-width="0.8"/>
<path d="M1105.0,664.9 L1124.1,654.1 L1124.1,660.9 L1110.7,668.4 L1110.7,692.4 L1124.1,684.9 L1124.1,691.6 L1105.0,702.4 Z" fill="#dcdcdc" stroke="#1a1a1a" stroke-width="1.3" />
<path d="M1126.5,652.8 L1145.6,642.0 L1145.6,679.5 L1126.5,690.3 L1126.5,683.5 L1139.9,676.0 L1139.9,652.0 L1126.5,659.5 Z" fill="#dcdcdc" stroke="#1a1a1a" stroke-width="1.3" />
<circle cx="1110.7" cy="668.4" r="2" fill="#fff" stroke="#1a1a1a" stroke-width="0.8"/>
<circle cx="1110.7" cy="692.4" r="2" fill="#fff" stroke="#1a1a1a" stroke-width="0.8"/>
<circle cx="1139.9" cy="652.0" r="2" fill="#fff" stroke="#1a1a1a" stroke-width="0.8"/>
<circle cx="1139.9" cy="676.0" r="2" fill="#fff" stroke="#1a1a1a" stroke-width="0.8"/>
<path d="M1204.5,723.0 L1223.6,712.1 L1223.6,718.6 L1210.2,726.2 L1210.2,749.3 L1223.6,741.6 L1223.6,748.1 L1204.5,759.0 Z" fill="#dcdcdc" stroke="#1a1a1a" stroke-width="1.3" />
<path d="M1226.0,710.7 L1245.1,699.8 L1245.1,735.8 L1226.0,746.7 L1226.0,740.2 L1239.4,732.6 L1239.4,709.5 L1226.0,717.2 Z" fill="#dcdcdc" stroke="#1a1a1a" stroke-width="1.3" />
<circle cx="1210.2" cy="726.2" r="2" fill="#fff" stroke="#1a1a1a" stroke-width="0.8"/>
<circle cx="1210.2" cy="749.3" r="2" fill="#fff" stroke="#1a1a1a" stroke-width="0.8"/>
<circle cx="1239.4" cy="709.5" r="2" fill="#fff" stroke="#1a1a1a" stroke-width="0.8"/>
<circle cx="1239.4" cy="732.6" r="2" fill="#fff" stroke="#1a1a1a" stroke-width="0.8"/>
<path d="M1251.8,750.3 L1270.8,739.3 L1270.8,745.9 L1257.5,753.6 L1257.5,777.1 L1270.8,769.3 L1270.8,776.0 L1251.8,787.0 Z" fill="#dcdcdc" stroke="#1a1a1a" stroke-width="1.3" />
<path d="M1273.2,737.8 L1292.2,726.8 L1292.2,763.5 L1273.2,774.5 L1273.2,767.9 L1286.5,760.2 L1286.5,736.7 L1273.2,744.5 Z" fill="#dcdcdc" stroke="#1a1a1a" stroke-width="1.3" />
<circle cx="1257.5" cy="753.6" r="2" fill="#fff" stroke="#1a1a1a" stroke-width="0.8"/>
<circle cx="1257.5" cy="777.1" r="2" fill="#fff" stroke="#1a1a1a" stroke-width="0.8"/>
<circle cx="1286.5" cy="736.7" r="2" fill="#fff" stroke="#1a1a1a" stroke-width="0.8"/>
<circle cx="1286.5" cy="760.2" r="2" fill="#fff" stroke="#1a1a1a" stroke-width="0.8"/>
<path d="M1144,694 C1150,688 1158,686 1163,680 C1166,677 1170,676 1173,679 C1176,682 1176,686 1176.2,688.2 L1159.5,696.1 L1159.5,725.5 L1174.2,716.7 C1176,722 1176,730 1172,733 C1165,738 1155,740 1146,744.5 C1142,744 1141,738 1141.5,730 C1142,718 1140,705 1141,698 C1141.5,696 1142,695 1144,694 Z" fill="#cfd6da" stroke="#1a1a1a" stroke-width="1.3" />
<path d="M1145.5,697 C1146,710 1145,725 1146,743" fill="none" stroke="#1a1a1a" stroke-width="1.0" />
<path d="M1176,673 C1183,669 1192,666 1199,659 C1202,657 1206,658 1207.5,661 C1208,675 1207,695 1208,708.8 C1205,713 1197,716 1190,720 C1186,723 1183,726 1180,725.5 C1177,724 1177,720 1177.5,716 L1191.9,707.8 L1191.9,678.4 L1177.2,686.3 C1177,682 1175,676 1176,673 Z" fill="#cfd6da" stroke="#1a1a1a" stroke-width="1.3" />
<path d="M1180.5,686 C1180,680 1181,675 1184,672" fill="none" stroke="#1a1a1a" stroke-width="1.0" />
<path d="M1159.5,725.5 L1174.2,716.7" fill="none" stroke="#8a8a8a" stroke-width="3.5" />
<path d="M1191.9,679 L1191.9,707" fill="none" stroke="#8a8a8a" stroke-width="3.5" />
<path d="M1295.2,774.5 L1316.2,763.7 L1316.2,803.3 L1295.2,814.5 Z" fill="#a8a195" stroke="#1a1a1a" stroke-width="1.5" />
<path d="M1317.1,761.9 L1338.5,750.7 L1338.5,790.3 L1317.1,801.5 L1317.1,790.7 L1328.3,785.6 L1328.3,767.0 L1317.1,772.2 Z" fill="#a8a195" stroke="#1a1a1a" stroke-width="1.5" />
<ellipse cx="1303.2" cy="778.2" rx="2.2" ry="2.6" fill="#3a3630" stroke="#1a1a1a" stroke-width="0.8"/>
<ellipse cx="1303.2" cy="803.3" rx="2.2" ry="2.6" fill="#3a3630" stroke="#1a1a1a" stroke-width="0.8"/>
<ellipse cx="1332" cy="761.9" rx="2.2" ry="2.6" fill="#3a3630" stroke="#1a1a1a" stroke-width="0.8"/>
<ellipse cx="1332" cy="786.6" rx="2.2" ry="2.6" fill="#3a3630" stroke="#1a1a1a" stroke-width="0.8"/>
<g transform="translate(1370.7,784.7) rotate(32)"><rect x="-4.5" y="-1.7" width="6.5" height="3.4" fill="#151515"/><rect x="1.5" y="-3.1" width="3" height="6.2" rx="1" fill="#151515"/></g>
<g transform="translate(1342.3,800.5) rotate(32)"><rect x="-4.5" y="-1.7" width="6.5" height="3.4" fill="#151515"/><rect x="1.5" y="-3.1" width="3" height="6.2" rx="1" fill="#151515"/></g>
<g transform="translate(1370.7,809.4) rotate(32)"><rect x="-4.5" y="-1.7" width="6.5" height="3.4" fill="#151515"/><rect x="1.5" y="-3.1" width="3" height="6.2" rx="1" fill="#151515"/></g>
<g transform="translate(1342.3,825.7) rotate(32)"><rect x="-4.5" y="-1.7" width="6.5" height="3.4" fill="#151515"/><rect x="1.5" y="-3.1" width="3" height="6.2" rx="1" fill="#151515"/></g>
<g><rect x="1090.46" y="897.64" width="4.46" height="3.56" fill="#fff"/><rect x="1097.70" y="897.64" width="4.62" height="3.56" fill="#fff"/></g>
<g><rect x="830.32" y="930.04" width="4.46" height="3.56" fill="#fff"/><rect x="837.56" y="930.04" width="4.62" height="3.56" fill="#fff"/></g>
<g><rect x="908.67" y="930.04" width="4.46" height="3.56" fill="#fff"/><rect x="915.91" y="930.04" width="4.62" height="3.56" fill="#fff"/></g>
<g><rect x="254.82" y="90.34" width="4.46" height="3.56" fill="#fff"/><rect x="262.06" y="90.34" width="4.62" height="3.56" fill="#fff"/></g>
<g><rect x="266.18" y="90.34" width="4.46" height="3.56" fill="#fff"/><rect x="273.42" y="90.34" width="4.62" height="3.56" fill="#fff"/></g>
<g transform="rotate(-90 154.8 492.0)"><rect x="119.85" y="489.34" width="4.46" height="3.56" fill="#fff"/><rect x="127.09" y="489.34" width="4.62" height="3.56" fill="#fff"/></g>
<g><rect x="779.51" y="318.34" width="4.46" height="3.56" fill="#fff"/><rect x="786.75" y="318.34" width="4.62" height="3.56" fill="#fff"/></g>
<g><rect x="779.71" y="617.34" width="4.46" height="3.56" fill="#fff"/><rect x="786.95" y="617.34" width="4.62" height="3.56" fill="#fff"/></g>
<g transform="rotate(-90 820.0 738.0)"><rect x="824.39" y="735.34" width="4.46" height="3.56" fill="#fff"/><rect x="831.64" y="735.34" width="4.62" height="3.56" fill="#fff"/></g>
<g><rect x="370.11" y="621.34" width="4.46" height="3.56" fill="#fff"/><rect x="377.35" y="621.34" width="4.62" height="3.56" fill="#fff"/></g>
<g><rect x="277.41" y="928.14" width="4.46" height="3.56" fill="#fff"/><rect x="284.65" y="928.14" width="4.62" height="3.56" fill="#fff"/></g>
</svg></body></html>
